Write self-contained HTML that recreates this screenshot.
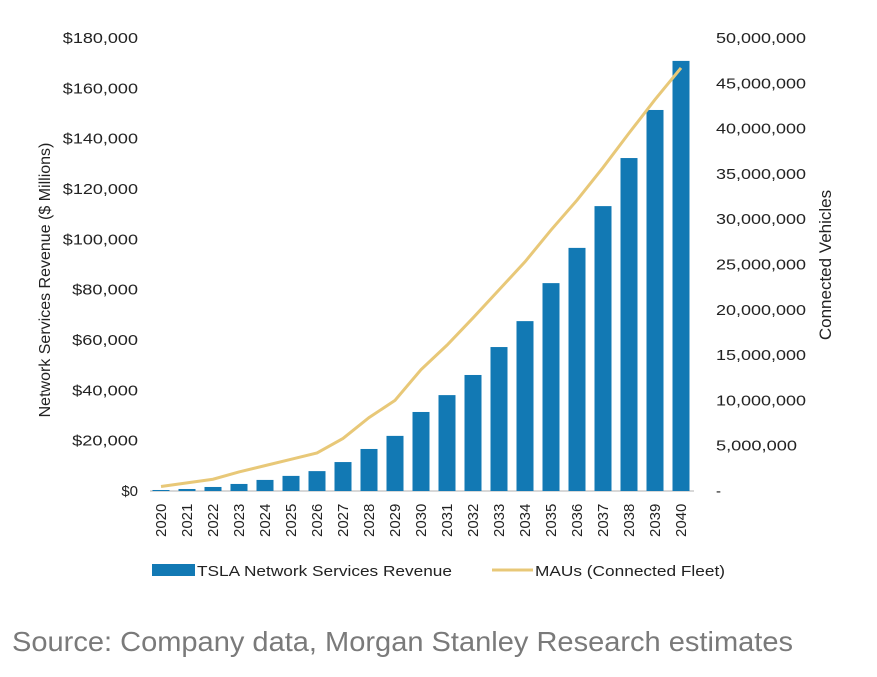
<!DOCTYPE html>
<html><head><meta charset="utf-8"><style>
body{margin:0;background:#fff;}
svg{display:block;font-family:"Liberation Sans",Arial,sans-serif;}
</style></head><body>
<svg id="c" width="877" height="677" viewBox="0 0 877 677">
<text x="12" y="651" font-size="28" fill="#7a7a7a" textLength="781" lengthAdjust="spacingAndGlyphs">Source: Company data, Morgan Stanley Research estimates</text>
</svg>
<script>
const years=["2020","2021","2022","2023","2024","2025","2026","2027","2028","2029","2030","2031","2032","2033","2034","2035","2036","2037","2038","2039","2040"];
const revenue=[400,800,1600,2800,4400,6000,7900,11500,16700,21900,31400,38100,46100,57200,67500,82600,96600,113200,132300,151400,170900];
const maus=[0.5,0.9,1.3,2.1,2.8,3.5,4.2,5.8,8.1,10.0,13.4,16.1,19.1,22.2,25.3,28.8,32.1,35.7,39.5,43.2,46.7];
const leftTicks=[0,20000,40000,60000,80000,100000,120000,140000,160000,180000];
const leftLabels=["$0","$20,000","$40,000","$60,000","$80,000","$100,000","$120,000","$140,000","$160,000","$180,000"];
const rightTicks=[0,5,10,15,20,25,30,35,40,45,50];
const rightLabels=["-","5,000,000","10,000,000","15,000,000","20,000,000","25,000,000","30,000,000","35,000,000","40,000,000","45,000,000","50,000,000"];
const svg=document.getElementById('c');const NS="http://www.w3.org/2000/svg";
const y0=491,y1=38,x0=148,step=26;
const yL=v=>y0-(v/180000)*(y0-y1);
const yR=v=>y0-(v/50)*(y0-y1);
const xC=i=>x0+step*(i+0.5);
function mk(t,a){const e=document.createElementNS(NS,t);for(const k in a)e.setAttribute(k,a[k]);svg.appendChild(e);return e;}
leftTicks.forEach((v,i)=>{const t=mk('text',{x:138,y:yL(v)+5,'font-size':15,'text-anchor':'end',fill:'#222'});t.textContent=leftLabels[i];
if(leftLabels[i].length>2){t.setAttribute('textLength',leftLabels[i].length*9.4);t.setAttribute('lengthAdjust','spacingAndGlyphs');}

});
rightTicks.forEach((v,i)=>{const t=mk('text',{x:716,y:yR(v)+5,'font-size':15,fill:'#222'});t.textContent=rightLabels[i];
if(rightLabels[i].length>2){t.setAttribute('textLength',rightLabels[i].length*9.0);t.setAttribute('lengthAdjust','spacingAndGlyphs');}

});
const ax=mk('line',{x1:150,x2:694,y1:y0,y2:y0,stroke:'#ccc','stroke-width':1.5});


revenue.forEach((v,i)=>{const r=mk('rect',{x:xC(i)-8.5,y:yL(v),width:17,height:y0-yL(v),fill:'#1279b4'});


const t=mk('text',{transform:`translate(${xC(i)+5},${y0+46}) rotate(-90)`,'font-size':15,fill:'#222'});t.textContent=years[i];

});
const p=mk('polyline',{points:maus.map((v,i)=>xC(i)+','+yR(v)).join(' '),fill:'none',stroke:'#e8c878','stroke-width':3});


const lt=mk('text',{transform:'translate(50,280) rotate(-90)','font-size':16,'text-anchor':'middle',fill:'#222'});lt.textContent="Network Services Revenue ($ Millions)";


const rt=mk('text',{transform:'translate(831,265) rotate(-90)','font-size':17,'text-anchor':'middle',fill:'#222'});rt.textContent="Connected Vehicles";


const lr=mk('rect',{x:152,y:564,width:43,height:12,fill:'#1279b4'});


const l1=mk('text',{x:197,y:576,'font-size':15,fill:'#222',textLength:255,lengthAdjust:'spacingAndGlyphs'});l1.textContent="TSLA Network Services Revenue";


const ll=mk('line',{x1:492,x2:533,y1:570,y2:570,stroke:'#e8c878','stroke-width':3});


const l2=mk('text',{x:535,y:576,'font-size':15,fill:'#222',textLength:190,lengthAdjust:'spacingAndGlyphs'});l2.textContent="MAUs (Connected Fleet)";


</script>
</body></html>
